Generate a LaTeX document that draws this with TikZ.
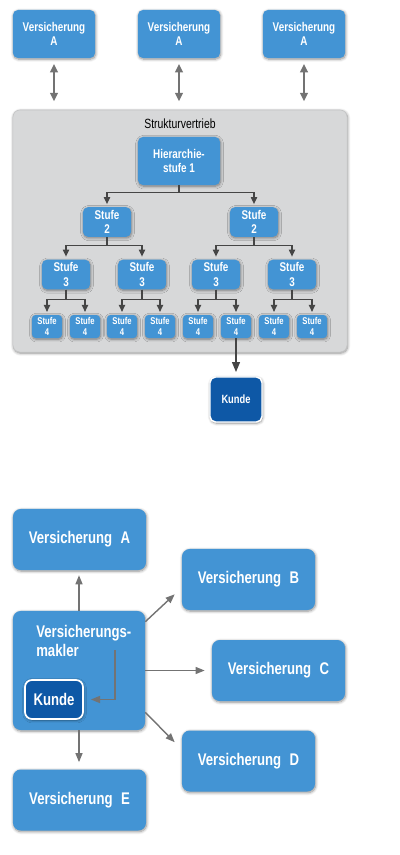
\documentclass[tikz,border=0pt]{standalone}
\usepackage{fontspec}
\setmainfont{Liberation Sans}[FakeStretch=0.78]
\usetikzlibrary{arrows.meta,shadows.blur,calc}
\definecolor{boxblue}{HTML}{4394D4}
\definecolor{kundeblue}{HTML}{0E58A6}
\definecolor{panelgray}{HTML}{D7D8D9}
\definecolor{panelline}{HTML}{C2C3C4}
\definecolor{arrowgray}{HTML}{737373}
\definecolor{treegray}{HTML}{454545}
\tikzset{
	boxshadow/.style={blur shadow={shadow xshift=0.4pt,shadow yshift=-0.8pt,shadow blur radius=2pt,shadow blur steps=8,shadow opacity=45}},
	vbox/.style={fill=boxblue,text=white,rounded corners=3.5pt,inner sep=0pt,align=center,font=\bfseries\fontsize{9}{10.5}\selectfont,boxshadow},
	topbox/.style={vbox,minimum width=2.05cm,minimum height=1.2cm},
	stufebox/.style={vbox,minimum width=1.2cm,minimum height=0.74cm},
	smallbox/.style={vbox,rounded corners=2.5pt,minimum width=0.75cm,minimum height=0.575cm,font=\bfseries\fontsize{7}{7.5}\selectfont},
	bigbox/.style={vbox,rounded corners=5.5pt,minimum width=3.325cm,minimum height=1.525cm,font=\bfseries\fontsize{12}{13.5}\selectfont},
	kundebox/.style={fill=kundeblue,draw=white,line width=1pt,text=white,rounded corners=4pt,inner sep=0pt,font=\bfseries\fontsize{8.5}{10}\selectfont,boxshadow},
	dblarrow/.style={{Triangle[width=5.5pt,length=6pt]}-{Triangle[width=5.5pt,length=6pt]},draw=arrowgray,line width=1.4pt},
	treearrow/.style={-{Triangle[width=4.5pt,length=5pt]},draw=treegray,line width=0.8pt},
	maklerarrow/.style={-{Triangle[width=5pt,length=6.5pt]},draw=arrowgray,line width=1pt},
}
\begin{document}
\begin{tikzpicture}[x=0.025cm,y=-0.025cm]
	\useasboundingbox (0,0) rectangle (400,855);
	\node[fill=panelgray,draw=panelline,rounded corners=5pt,minimum width=8.35cm,minimum height=6.05cm,boxshadow] (struktur) at (180,231) {};
	\node[font=\fontsize{9.5}{11}\selectfont] (titel) at (180,124) {Strukturvertrieb};
	\foreach \n/\x in {va1/54,va2/179,va3/304}{
		\node[topbox] (\n) at (\x,34) {Versicherung\\A};
		\draw[dblarrow,shorten <=4pt,shorten >=6pt] (\n.south) -- (\n.south |- struktur.north);
	}
	\node[topbox] (h1) at (179,161) {Hierarchie-\\stufe 1};
	\foreach \n/\x in {s2a/107,s2b/254}
		\node[stufebox] (\n) at (\x,222) {Stufe\\2};
	\foreach \n/\x in {s3a/66,s3b/142,s3c/216,s3d/292}
		\node[stufebox] (\n) at (\x,274.5) {Stufe\\3};
	\foreach \n/\x in {s4a/47,s4b/85,s4c/122,s4d/160,s4e/198,s4f/236,s4g/274,s4h/312}
		\node[smallbox] (\n) at (\x,326.5) {Stufe\\4};
	\foreach \p/\c/\d in {h1/s2a/7,h1/s2b/7,s2a/s3a/8,s2a/s3b/8,s2b/s3c/8,s2b/s3d/8,s3a/s4a/10,s3a/s4b/10,s3b/s4c/10,s3b/s4d/10,s3c/s4e/10,s3c/s4f/10,s3d/s4g/10,s3d/s4h/10}
		\draw[treearrow,shorten >=2pt] (\p.south) -- ++(0,\d) -| (\c.north);
	\node[kundebox,minimum width=1.3cm,minimum height=1.125cm] (kunde1) at (236,399.5) {Kunde};
	\draw[treearrow,-{Triangle[width=5.5pt,length=7pt]},line width=1.1pt,shorten >=3pt] (s4f.south) -- (kunde1.north);

	\foreach \n/\x/\y/\t in {vA/79.5/539.5/A,vB/248.5/579.5/B,vC/278.5/670.5/C,vD/248.5/761/D,vE/79.5/800/E}
		\node[bigbox] (\n) at (\x,\y) {Versicherung\enspace\t};
	\node[bigbox,minimum width=3.3cm,minimum height=2.975cm] (makler) at (79,670.5) {};
	\node[anchor=north west,text=white,align=left,font=\bfseries\fontsize{12}{13.5}\selectfont,inner sep=0pt] (maklertext) at (36,625) {Versicherungs-\\makler};
	\node[kundebox,minimum width=1.45cm,minimum height=0.975cm,line width=1.2pt,rounded corners=5pt,font=\bfseries\fontsize{12}{14}\selectfont] (kunde2) at (54,699.5) {Kunde};
	\coordinate (knick) at (115,650);
	\draw[maklerarrow,shorten >=5pt] (knick) |- (kunde2.east);
	\draw[maklerarrow,shorten >=3.5pt] (makler.north) -- (makler.north |- vA.south);
	\draw[maklerarrow,shorten >=5pt] (makler.south) -- (makler.south |- vE.north);
	\draw[maklerarrow,shorten >=5pt] (makler.east) -- (vC.west);
	\draw[maklerarrow] ($(makler.north east)+(0,11)$) -- ($(vB.south west)+(-7,-16)$);
	\draw[maklerarrow] ($(makler.south east)+(0,-18)$) -- ($(vD.north west)+(-7,12)$);
\end{tikzpicture}
\end{document}
